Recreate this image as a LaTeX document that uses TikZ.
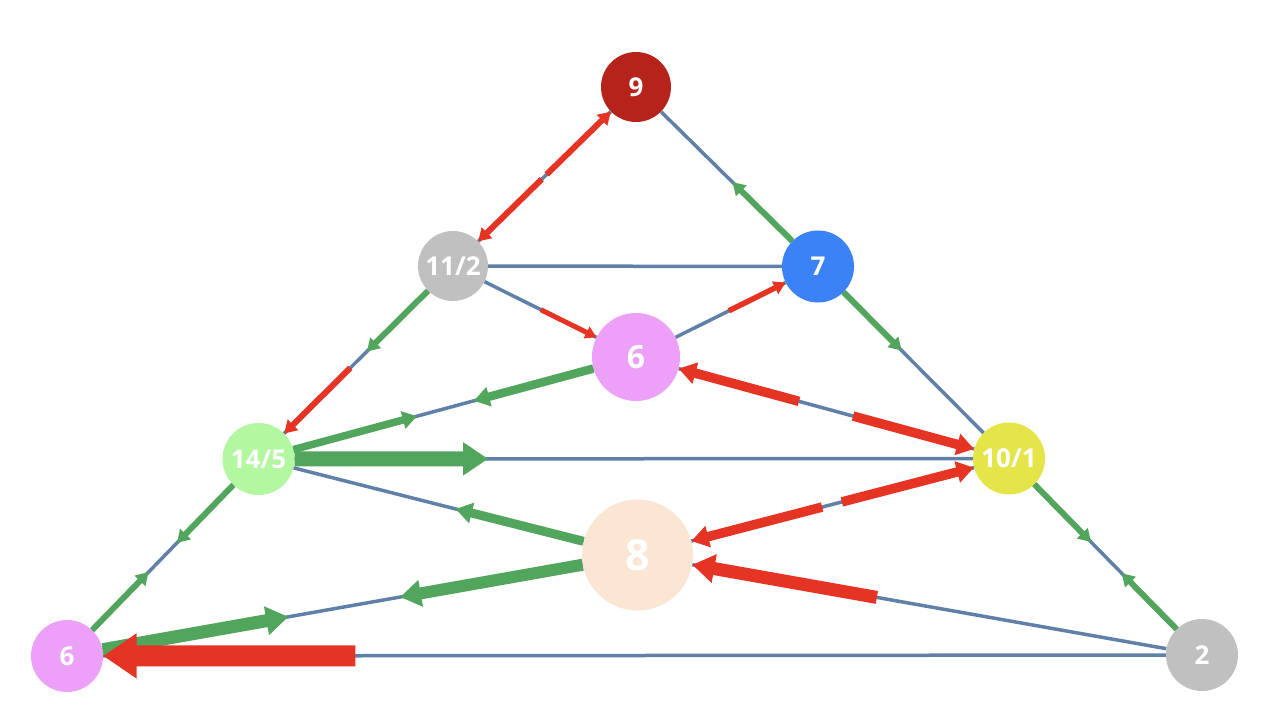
\documentclass[tikz,border=0pt]{standalone}
\usepackage{fontspec}
\setmainfont{Open Sans}
\usetikzlibrary{arrows.meta,calc}
\definecolor{edgeblue}{HTML}{6080A8}
\definecolor{fgreen}{HTML}{52A55C}
\definecolor{fred}{HTML}{E53324}
\definecolor{cdarkred}{HTML}{B5231A}
\definecolor{cgray}{HTML}{C0C0C0}
\definecolor{cblue}{HTML}{3B82F6}
\definecolor{cpink}{HTML}{EDA0F7}
\definecolor{clgreen}{HTML}{B3F7A0}
\definecolor{cyellow}{HTML}{E5E54A}
\definecolor{cpeach}{HTML}{FAE6D2}
\tikzset{
  vtx/.style={circle, inner sep=0pt, text=white, font=\fontsize{26}{26}\selectfont\bfseries},
  edgeline/.style={draw=edgeblue, line width=3.5pt},
  gar/.style={draw=fgreen, -{Triangle[length=4pt 1.4, width=3pt 1.9]}},
  rar/.style={draw=fred, -{Triangle[length=4pt 1.4, width=3pt 1.9]}},
}
\begin{document}
\begin{tikzpicture}[x=1pt,y=-1pt]
\useasboundingbox (0,0) rectangle (1268,720);
% nodes
\node[vtx, fill=cdarkred, minimum size=70pt] (n9) at (636,87) {9};
\node[vtx, fill=cgray, minimum size=70pt] (n112) at (453,266) {11/2};
\node[vtx, fill=cblue, minimum size=72pt] (n7) at (818,266.5) {7};
\node[vtx, fill=cpink, minimum size=88pt, font=\fontsize{32}{32}\selectfont\bfseries] (n6c) at (636,357) {6};
\node[vtx, fill=clgreen, minimum size=72pt] (n145) at (258.5,459) {14/5};
\node[vtx, fill=cyellow, minimum size=72pt] (n101) at (1009,458.5) {10/1};
\node[vtx, fill=cpeach, minimum size=111pt, font=\fontsize{43}{43}\selectfont\bfseries] (n8) at (637.5,555) {8};
\node[vtx, fill=cpink, minimum size=72pt] (n6l) at (67,656) {6};
\node[vtx, fill=cgray, minimum size=72pt] (n2) at (1202,655) {2};
% base lines
\foreach \a/\b in {n9/n7, n9/n112, n112/n7, n112/n6c, n6c/n7, n7/n101, n112/n145, n6c/n145, n145/n101, n145/n8, n6c/n101, n8/n101, n101/n2, n8/n2, n8/n6l, n145/n6l, n6l/n2}
  \draw[edgeline] (\a) -- (\b);
% 9 - 7
\draw[gar, line width=6pt] (n7) -- ($(n9)!0.53!(n7)$);
% 9 - 11/2
\draw[rar, line width=6pt] ($(n112)!0.512!(n9)$) -- (n9);
\draw[rar, line width=6pt] ($(n112)!0.485!(n9)$) -- (n112);
% 11/2 - 6c
\draw[rar, line width=5pt] ($(n112)!0.48!(n6c)$) -- (n6c);
% 6c - 7
\draw[rar, line width=5.5pt] ($(n6c)!0.51!(n7)$) -- (n7);
% 7 - 10/1
\draw[gar, line width=6pt] (n7) -- ($(n7)!0.438!(n101)$);
% 11/2 - 14/5
\draw[gar, line width=6pt] (n112) -- ($(n112)!0.443!(n145)$);
\draw[rar, line width=6pt] ($(n112)!0.528!(n145)$) -- (n145);
% 6c - 14/5
\draw[gar, line width=8.5pt] (n6c) -- ($(n145)!0.57!(n6c)$);
\draw[gar, line width=7.5pt] (n145) -- ($(n145)!0.42!(n6c)$);
% 14/5 - 10/1
\draw[gar, line width=15pt] (n145) -- ($(n145)!0.306!(n101)$);
% 14/5 - 8
\draw[gar, line width=9pt] (n8) -- ($(n145)!0.52!(n8)$);
% 6c - 10/1
\draw[rar, line width=9.5pt] ($(n6c)!0.437!(n101)$) -- (n6c);
\draw[rar, line width=9.5pt] ($(n6c)!0.582!(n101)$) -- (n101);
% 8 - 10/1
\draw[rar, line width=9.5pt] ($(n8)!0.497!(n101)$) -- (n8);
\draw[rar, line width=9.5pt] ($(n8)!0.55!(n101)$) -- (n101);
% 10/1 - 2
\draw[gar, line width=6pt] (n101) -- ($(n101)!0.425!(n2)$);
\draw[gar, line width=6pt] (n2) -- ($(n101)!0.584!(n2)$);
% 2 - 8
\draw[rar, line width=13pt] ($(n8)!0.424!(n2)$) -- (n8);
% 8 - 6l
\draw[gar, line width=12pt] (n8) -- ($(n6l)!0.584!(n8)$);
\draw[gar, line width=13pt] (n6l) -- ($(n6l)!0.388!(n8)$);
% 14/5 - 6l
\draw[gar, line width=6pt] (n145) -- ($(n6l)!0.574!(n145)$);
\draw[gar, line width=6pt] (n6l) -- ($(n6l)!0.426!(n145)$);
% 6l - 2
\draw[rar, line width=21pt] ($(n6l)!0.254!(n2)$) -- (n6l);
\end{tikzpicture}
\end{document}
